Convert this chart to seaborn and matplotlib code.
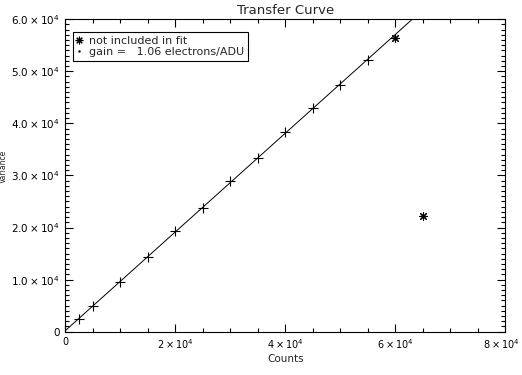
import numpy as np
import pandas as pd
import matplotlib
matplotlib.use("Agg")
import matplotlib.pyplot as plt
from matplotlib.ticker import MultipleLocator, FuncFormatter
from matplotlib.lines import Line2D
from matplotlib.transforms import ScaledTranslation
import seaborn as sns

# data
counts_fit = [2500, 5000, 10000, 15000, 20000, 25000, 30000, 35000, 40000, 45000, 50000, 55000]
var_fit = [2380, 4930, 9600, 14400, 19330, 23690, 28980, 33400, 38390, 42880, 47290, 52150]
counts_excl = [60000, 65000]
var_excl = [56320, 22270]
gain_text = "gain =   1.06 electrons/ADU"

sns.set_style("ticks")
plt.rcParams['font.family'] = ['DejaVu Sans']
plt.rcParams['font.size'] = 7.5

fig = plt.figure(figsize=(5.22, 3.75), dpi=100)
ax = fig.add_axes([65.3/522, 1-331.7/375, 440/522, (331.7-19.1)/375])

df_fit = pd.DataFrame({"Counts": counts_fit, "Variance": var_fit})
df_ex = pd.DataFrame({"Counts": counts_excl, "Variance": var_excl})

# linear fit through included points
slope, intercept = np.polyfit(counts_fit, var_fit, 1)
xl = np.array([0, 80000])
df_line = pd.DataFrame({"Counts": xl, "Variance": slope * xl + intercept})

sns.lineplot(data=df_line, x="Counts", y="Variance", color="black", lw=0.7, ax=ax)
sns.scatterplot(data=df_fit, x="Counts", y="Variance", marker="+", color="black",
                s=42, linewidth=0.8, ax=ax)
sns.scatterplot(data=df_ex, x="Counts", y="Variance", marker=(8, 2, 0), color="black",
                s=32, linewidth=0.8, ax=ax)

ax.set_xlim(0, 80000)
ax.set_ylim(0, 60000)

ax.xaxis.set_major_locator(MultipleLocator(20000))
ax.xaxis.set_minor_locator(MultipleLocator(5000))
ax.yaxis.set_major_locator(MultipleLocator(10000))
ax.yaxis.set_minor_locator(MultipleLocator(1000))

def xfmt(v, pos):
    if v == 0:
        return "0"
    return r"$%d\times10^{4}$" % round(v / 1e4)

def yfmt(v, pos):
    if v == 0:
        return "0"
    return r"$%.1f\times10^{4}$" % (v / 1e4)

ax.xaxis.set_major_formatter(FuncFormatter(xfmt))
ax.yaxis.set_major_formatter(FuncFormatter(yfmt))

ax.tick_params(which="both", direction="in", top=True, right=True, width=0.8,
               color="black", labelsize=7.5, labelcolor="black")
ax.tick_params(axis="x", labelsize=7)
ax.tick_params(which="major", length=6, pad=4)
ax.tick_params(which="minor", length=3)
for s in ax.spines.values():
    s.set_visible(True)
    s.set_linewidth(0.8)
    s.set_color("black")

ax.set_xlabel("Counts", fontsize=7.5, labelpad=2)
ax.set_ylabel("Variance", fontsize=5.5)
ax.yaxis.set_label_coords(-0.131, 0.53)
ax.set_title("Transfer Curve", fontsize=9.5, pad=4)

handles = [
    Line2D([], [], marker=(8, 2, 0), color="black", ls="none", markersize=5.5, markeredgewidth=0.8),
    Line2D([], [], marker=".", color="black", ls="none", markersize=1.5),
]
leg = ax.legend(handles, ["not included in fit", gain_text], loc="upper left",
                bbox_to_anchor=(0.017, 0.958), frameon=True, fancybox=False,
                fontsize=8, handlelength=0.6, handletextpad=0.6,
                borderpad=0.3, labelspacing=0.15, borderaxespad=0)
leg.get_frame().set_edgecolor("black")
leg.get_frame().set_linewidth(0.8)
leg.get_frame().set_alpha(1)

# nudge the rightmost x tick label inward so it stays inside the canvas
fig.canvas.draw()
last = ax.xaxis.get_major_ticks()[-1].label1
for t in ax.xaxis.get_major_ticks():
    if abs(t.get_loc() - 80000) < 1:
        last = t.label1
last.set_transform(last.get_transform() + ScaledTranslation(-3/72, 0, fig.dpi_scale_trans))

fig.savefig("out.png", dpi=100)
